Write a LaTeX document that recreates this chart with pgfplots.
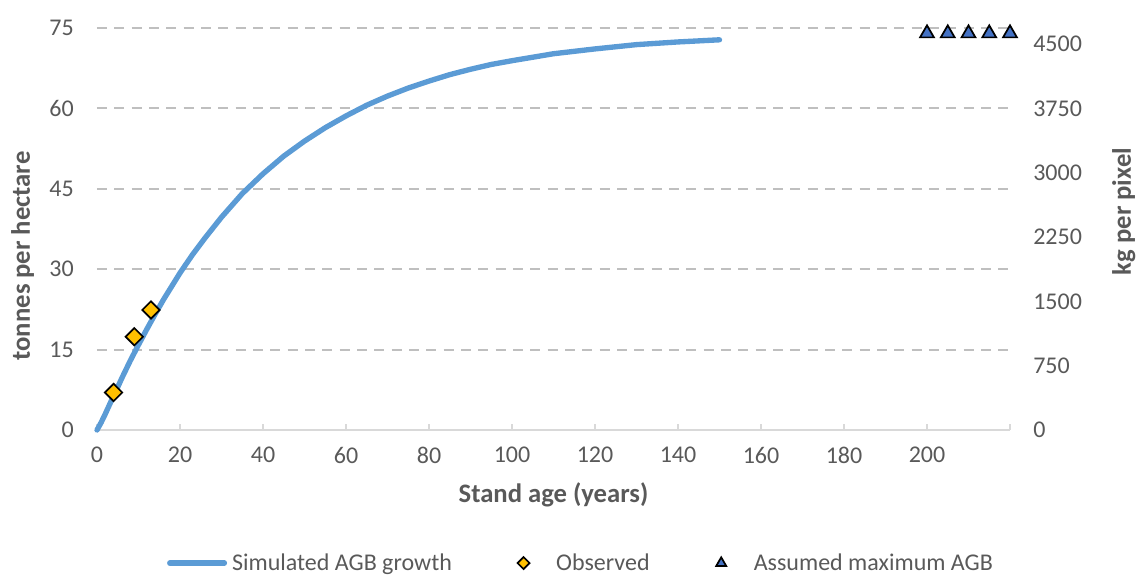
\documentclass[border=0pt]{standalone}
\usepackage{fontspec}
\setmainfont{Carlito}
\usepackage{pgfplots}
\pgfplotsset{compat=1.18}
\definecolor{txt}{HTML}{595959}
\definecolor{gridc}{HTML}{BFBFBF}
\definecolor{axisc}{HTML}{D9D9D9}
\definecolor{lineblue}{HTML}{5B9BD5}
\definecolor{obsfill}{HTML}{FFC000}
\definecolor{maxfill}{HTML}{4472C4}
\begin{document}
\begin{tikzpicture}
\begin{axis}[
  name=ax,
  width=684.75pt, height=301.5pt, scale only axis,
  xmin=0, xmax=220, ymin=0, ymax=75,
  clip=false,
  axis x line*=bottom, axis y line*=left,
  y axis line style={draw=none},
  x axis line style={draw=axisc, line width=1.2pt},
  xtick={0,20,...,200}, extra x ticks={220}, extra x tick labels={},
  xtick style={draw=axisc, line width=1.2pt},
  major tick length=4.5pt, tick align=inside,
  ytick={15,30,...,75}, extra y ticks={0},
  extra tick style={grid=none},
  ytick style={draw=none},
  ymajorgrids,
  grid style={draw=gridc, line width=1.5pt, dash pattern=on 7.5pt off 5.5pt},
  /pgf/number format/assume math mode=true,
  /pgf/number format/1000 sep={},
  scaled ticks=false,
  tick label style={font=\fontsize{18}{20}\selectfont, text=txt},
  yticklabel style={anchor=east, inner sep=0pt, xshift=-17.25pt},
  xticklabel style={anchor=north, inner sep=0pt, yshift=-12.75pt},
  label style={font=\fontsize{20}{22}\selectfont\bfseries, text=txt},
  xlabel={Stand age (years)},
  xlabel style={at={(axis description cs:0.5,-0.181)}, anchor=base},
  ylabel={tonnes per hectare},
  ylabel style={at={(axis description cs:-0.0734,0.433)}, anchor=base},
  legend style={at={(axis description cs:0.529,-0.331)}, anchor=center,
    draw=none, fill=none, legend columns=3,
    font=\fontsize{18}{20}\selectfont, text=txt,
    nodes={inner sep=0pt},
    /tikz/every odd column/.append style={column sep=3.75pt},
    /tikz/every even column/.append style={column sep=33pt}},
]
\addplot[lineblue, line width=4pt, line join=round, line cap=round,
  legend image code/.code={\draw[lineblue, line width=4pt, line cap=round] (0pt,0pt) -- (41pt,0pt);}]
coordinates {
(0,0) (1,1.4) (2,3.0) (3,4.7) (4,6.4) (5,8.0) (6,9.7) (8,12.9) (10,15.9)
(12,18.8) (14,21.6) (16,24.3) (18,26.8) (20,29.3) (23,32.7) (26,35.8) (30,39.7)
(35,44.1) (40,47.8) (45,51.1) (50,53.9) (55,56.4) (60,58.6) (65,60.6) (70,62.3)
(75,63.8) (80,65.1) (85,66.3) (90,67.3) (95,68.2) (100,68.9) (110,70.2)
(120,71.1) (130,71.9) (140,72.4) (150,72.8)
};
\addlegendentry{Simulated AGB growth}
\addplot[only marks, mark=diamond*, mark size=6.5pt,
  mark options={fill=obsfill, draw=black, line width=1.3pt, xscale=1.33},
  legend image code/.code={\path (0pt,0pt) (41pt,0pt); \draw[mark size=4.5pt] plot[only marks] coordinates {(20.5pt,0pt)};}]
coordinates {(4,7.0) (9,17.4) (13,22.4)};
\addlegendentry{Observed}
\addplot[only marks, mark=triangle*, mark size=6pt,
  mark options={fill=maxfill, draw=black, line width=1.3pt},
  legend image code/.code={\path (0pt,0pt) (41pt,0pt); \draw[mark size=4.3pt] plot[only marks] coordinates {(20.5pt,0pt)};}]
coordinates {(200,74) (205,74) (210,74) (215,74) (220,74)};
\addlegendentry{Assumed maximum AGB}
\end{axis}
\begin{axis}[
  width=684.75pt, height=301.5pt, scale only axis,
  xmin=0, xmax=220, ymin=0, ymax=4687.5,
  axis y line*=right, axis x line=none,
  y axis line style={draw=none},
  ytick={0,750,...,4500},
  ytick style={draw=none},
  /pgf/number format/assume math mode=true,
  /pgf/number format/1000 sep={},
  scaled ticks=false,
  tick label style={font=\fontsize{18}{20}\selectfont, text=txt},
  yticklabel style={anchor=west, inner sep=0pt, xshift=17.25pt},
  label style={font=\fontsize{20}{22}\selectfont\bfseries, text=txt},
  ylabel={kg per pixel},
  ylabel style={at={(axis description cs:1.1325,0.5435)}, anchor=base},
]
\end{axis}
\pgfresetboundingbox
\useasboundingbox (ax.south west) ++(-72.75pt,-109.5pt) rectangle ++(854.25pt,432pt);
\end{tikzpicture}
\end{document}
